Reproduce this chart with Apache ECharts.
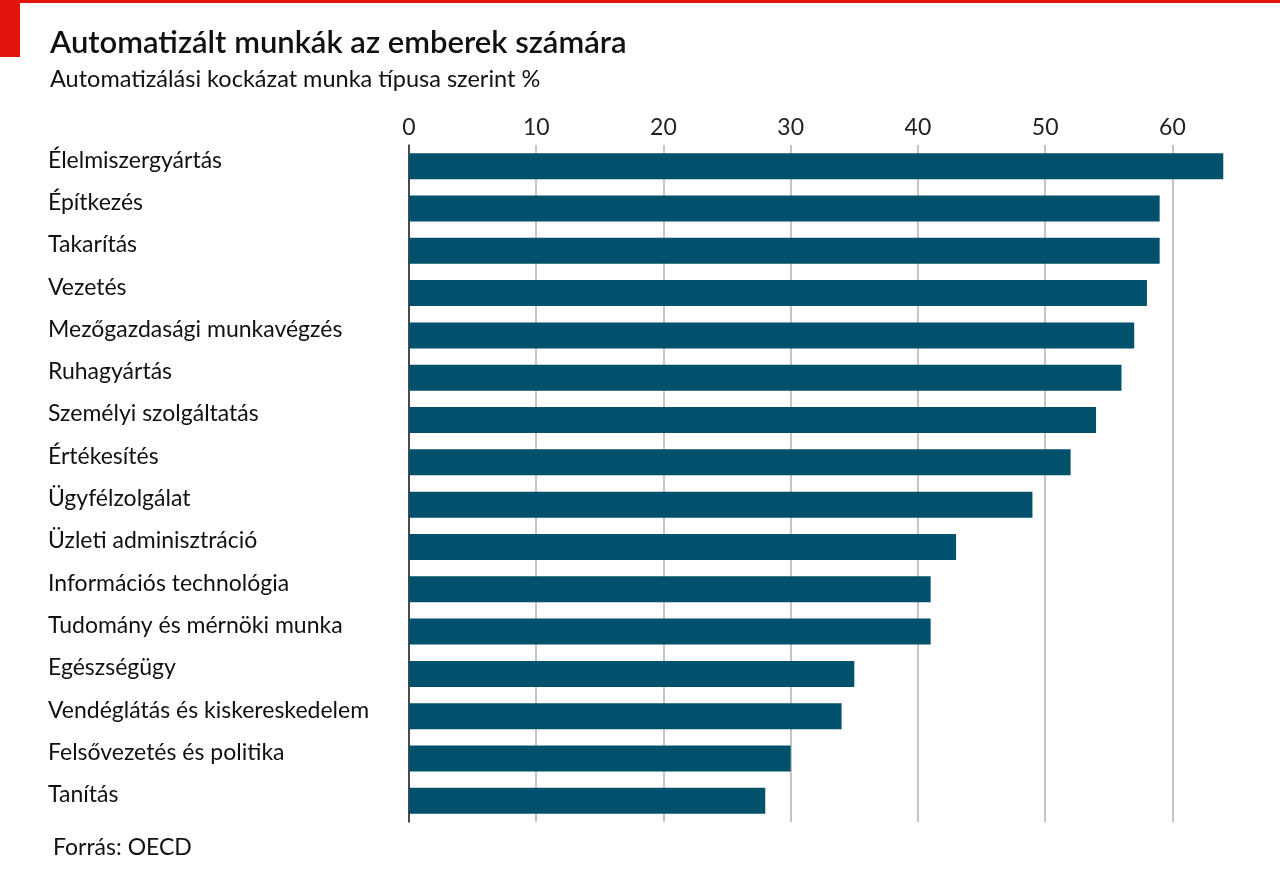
<!DOCTYPE html>
<html>
<head>
<meta charset="utf-8">
<script src="https://cdn.jsdelivr.net/npm/echarts@6/dist/echarts.min.js"></script>
<style>
    html, body { margin: 0; padding: 0; background: #fff; }
    #chart { width: 1280px; height: 883px; }
</style>
</head>
<body>
<div id="chart"></div>
<script>
// Munkatípusok (fentről lefelé)
const categories = [
    'Élelmiszergyártás',
    'Építkezés',
    'Takarítás',
    'Vezetés',
    'Mezőgazdasági munkavégzés',
    'Ruhagyártás',
    'Személyi szolgáltatás',
    'Értékesítés',
    'Ügyfélzolgálat',
    'Üzleti adminisztráció',
    'Információs technológia',
    'Tudomány és mérnöki munka',
    'Egészségügy',
    'Vendéglátás és kiskereskedelem',
    'Felsővezetés és politika',
    'Tanítás'
];

// Automatizálási kockázat, %
const riskValues = [64, 59, 59, 58, 57, 56, 54, 52, 49, 43, 41, 41, 35, 34, 30, 28];

const axisTicks = [0, 10, 20, 30, 40, 50, 60];

const FONT = 'Lato, "Open Sans", sans-serif';

let chart = echarts.init(document.getElementById('chart'));

let option = {
    backgroundColor: '#ffffff',
    animation: false,
    graphic: [
        // piros csík felül
        { type: 'rect', shape: { x: 0, y: 0, width: 1280, height: 3 }, style: { fill: '#e3120b' } },
        { type: 'rect', shape: { x: 0, y: 0, width: 20, height: 57 }, style: { fill: '#e3120b' } },
        {
            type: 'text', left: 50, top: 27,
            style: { text: 'Automatizált munkák az emberek számára', font: '600 31px ' + FONT, fill: '#111' }
        },
        {
            type: 'text', left: 50, top: 67,
            style: { text: 'Automatizálási kockázat munka típusa szerint %', font: '23.5px ' + FONT, fill: '#111' }
        },
        {
            type: 'text', left: 53, top: 836,
            style: { text: 'Forrás: OECD', font: '23px ' + FONT, fill: '#111' }
        }
    ],
    grid: {
        left: 409,
        top: 145,
        width: 827,
        height: 677,
        containLabel: false
    },
    xAxis: {
        type: 'value',
        position: 'top',
        min: 0,
        max: 65,
        interval: 10,
        axisLine: { show: false },
        axisTick: { show: false },
        axisLabel: {
            fontFamily: FONT,
            fontSize: 23,
            color: '#222',
            margin: 6,
            formatter: function (v) {
                return axisTicks.indexOf(v) >= 0 ? String(v) : '';
            }
        },
        splitLine: { showMaxLine: false, lineStyle: { color: '#c4c4c4', width: 2 } }
    },
    yAxis: {
        type: 'category',
        inverse: true,
        data: categories,
        axisLine: { show: true, lineStyle: { color: '#222', width: 1.5 } },
        axisTick: { show: false },
        axisLabel: {
            align: 'left',
            margin: 361,
            formatter: function (v) {
                return '{l|' + v + '}';
            },
            rich: {
                l: {
                    fontFamily: FONT,
                    fontSize: 23,
                    color: '#111',
                    padding: [0, 0, 12, 0]
                }
            }
        }
    },
    series: [
        {
            type: 'bar',
            data: riskValues,
            barWidth: 26,
            itemStyle: { color: '#02516c' },
            z: 3
        }
    ]
};

chart.setOption(option);

window.onresize = function () {
    chart.resize();
};
</script>
</body>
</html>
